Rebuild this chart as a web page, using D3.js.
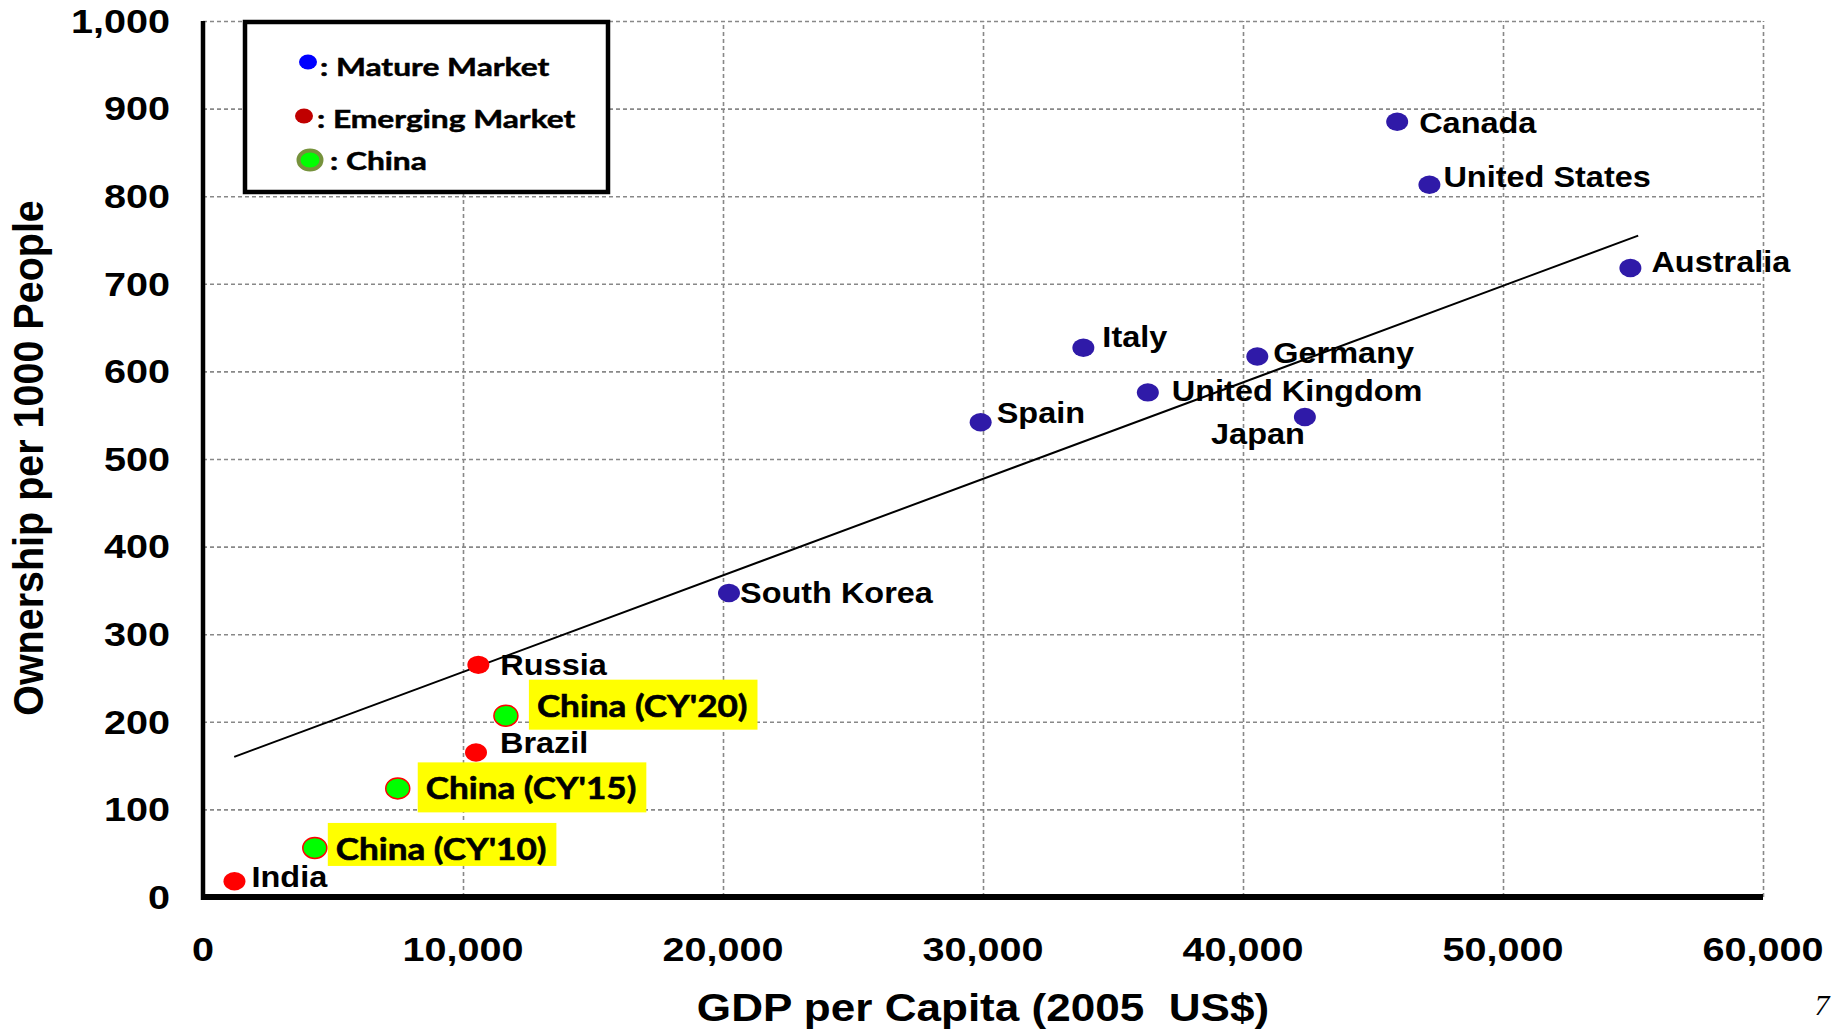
<!DOCTYPE html>
<html>
<head>
<meta charset="utf-8">
<script src="https://cdn.jsdelivr.net/npm/d3@7/dist/d3.min.js"></script>
<style>
  body { margin: 0; background: #fff; }
  svg { display: block; }
</style>
</head>
<body>
<svg id="chart"></svg>
<script>
// data
const countries = ["Canada", "United States", "Australia", "Italy", "Germany", "United Kingdom",
  "Japan", "Spain", "South Korea", "Russia", "Brazil", "India",
  "China (CY'20)", "China (CY'15)", "China (CY'10)"];
const gdpPerCapita = [45930, 47170, 54900, 33860, 40550, 36340, 42380, 29910, 20230,
  10590, 10500, 1210, 11650, 7490, 4300];
const ownership = [885, 813, 718, 627, 617, 576, 548, 542, 347, 265, 165, 18, 207, 124, 56];
const marketType = ["mature", "mature", "mature", "mature", "mature", "mature", "mature", "mature",
  "mature", "emerging", "emerging", "emerging", "china", "china", "china"];

// trend line end points
const trendGdp = [1200, 55200];
const trendOwn = [160, 755];

const xTicks = [0, 10000, 20000, 30000, 40000, 50000, 60000];
const yTicks = [0, 100, 200, 300, 400, 500, 600, 700, 800, 900, 1000];

const legendItems = [": Mature Market", ": Emerging Market", ": China"];

// label placement relative to each point [dx, dy, anchor]
const labelPos = [
  [22, 11, "start"], [14, 2, "start"], [21, 4, "start"], [19, -1, "start"],
  [16, 6, "start"], [24, 9, "start"], [0, 27, "end"], [16, 1, "start"],
  [11, 10, "start"], [22, 10, "start"], [24, 1, "start"], [17, 6, "start"],
  [31, 1, "start"], [28, 11, "start"], [21, 12, "start"]
];

const W = 1839, H = 1032;
const margin = { top: 21, right: 76, bottom: 135, left: 203 };
const plotW = W - margin.left - margin.right;
const plotH = H - margin.top - margin.bottom;

const svg = d3.select("#chart").attr("width", W).attr("height", H);
const g = svg.append("g").attr("transform", `translate(${margin.left},${margin.top})`);

const x = d3.scaleLinear().domain([0, 60000]).range([0, plotW]);
const y = d3.scaleLinear().domain([0, 1000]).range([plotH, 0]);

// stretch text horizontally around its anchor point
function stretch(sel, sx) {
  sel.each(function () {
    const t = d3.select(this);
    const tx = +t.attr("x") || 0, ty = +t.attr("y") || 0;
    t.attr("x", 0).attr("y", 0)
      .attr("transform", `translate(${tx},${ty}) scale(${sx},1)`);
  });
}

// dashed grid
g.append("g")
  .attr("class", "grid")
  .call(d3.axisLeft(y).tickValues(yTicks.slice(1)).tickSize(-plotW).tickFormat(""))
  .call(s => s.select(".domain").remove());
g.append("g")
  .attr("class", "grid")
  .attr("transform", `translate(0,${plotH})`)
  .call(d3.axisBottom(x).tickValues(xTicks.slice(1)).tickSize(plotH).tickFormat(""))
  .call(s => s.select(".domain").remove());
g.selectAll(".grid .tick line")
  .attr("stroke", "#888")
  .attr("stroke-width", 1.6)
  .attr("stroke-dasharray", "4,3");
g.selectAll(".grid .tick").filter(function () {
  return d3.select(this.parentNode).attr("transform");
}).select("line").attr("y2", -plotH);

// tick labels
const fmt = d3.format(",");
g.selectAll(".ylab")
  .data(yTicks)
  .enter().append("text")
  .attr("class", "ylab")
  .attr("x", -33)
  .attr("y", d => y(d))
  .attr("dy", "0.36em")
  .attr("text-anchor", "end")
  .style("font", "bold 33px 'Liberation Sans', Arial, sans-serif")
  .text(d => fmt(d))
  .call(stretch, 1.2);

g.selectAll(".xlab")
  .data(xTicks)
  .enter().append("text")
  .attr("class", "xlab")
  .attr("x", d => x(d))
  .attr("y", plotH + 64)
  .attr("text-anchor", "middle")
  .style("font", "bold 33px 'Liberation Sans', Arial, sans-serif")
  .text(d => fmt(d))
  .call(stretch, 1.2);

// axis lines
g.append("line")
  .attr("x1", 0).attr("x2", 0)
  .attr("y1", 0).attr("y2", plotH + 3)
  .attr("stroke", "#000").attr("stroke-width", 4.5);
g.append("line")
  .attr("x1", -2).attr("x2", plotW)
  .attr("y1", plotH).attr("y2", plotH)
  .attr("stroke", "#000").attr("stroke-width", 6);

// axis titles
svg.append("text")
  .attr("x", 983)
  .attr("y", 1021)
  .attr("text-anchor", "middle")
  .style("font", "bold 39px 'Liberation Sans', Arial, sans-serif")
  .style("white-space", "pre")
  .text("GDP per Capita (2005  US$)")
  .call(stretch, 1.13);

svg.append("text")
  .attr("transform", "translate(43,458) rotate(-90) scale(1,1.09)")
  .attr("text-anchor", "middle")
  .style("font", "bold 39.5px 'Liberation Sans', Arial, sans-serif")
  .text("Ownership per 1000 People");

// trend line
g.append("line")
  .attr("x1", x(trendGdp[0])).attr("y1", y(trendOwn[0]))
  .attr("x2", x(trendGdp[1])).attr("y2", y(trendOwn[1]))
  .attr("stroke", "#000").attr("stroke-width", 2);

const points = countries.map((c, i) => ({
  name: c, gdp: gdpPerCapita[i], own: ownership[i], type: marketType[i], pos: labelPos[i]
}));

// yellow boxes behind the China labels, drawn first
const chinaBoxes = g.append("g");

// points
g.selectAll(".pt")
  .data(points)
  .enter().append("ellipse")
  .attr("class", "pt")
  .attr("cx", d => x(d.gdp))
  .attr("cy", d => y(d.own))
  .attr("rx", d => d.type === "china" ? 12 : 11)
  .attr("ry", d => d.type === "china" ? 10.5 : 9.2)
  .attr("fill", d => d.type === "mature" ? "#2f1aa8" : d.type === "emerging" ? "#ff0000" : "#00ff00")
  .attr("stroke", d => d.type === "china" ? "#ff0000" : "none")
  .attr("stroke-width", 1.5);

// labels
const labels = g.selectAll(".lbl")
  .data(points)
  .enter().append("text")
  .attr("class", "lbl")
  .attr("x", d => x(d.gdp) + d.pos[0])
  .attr("y", d => y(d.own) + d.pos[1])
  .attr("text-anchor", d => d.pos[2])
  .style("font", d => d.type === "china"
    ? "bold 30px Lato, 'Open Sans', sans-serif"
    : "bold 29px 'Liberation Sans', Arial, sans-serif")
  .attr("fill", "#000")
  .text(d => d.name);

labels.filter(d => d.type !== "china").call(stretch, 1.12);
labels.filter(d => d.type === "china")
  .attr("stroke", "#000").attr("stroke-width", 0.6)
  .call(stretch, 1.17);

labels.filter(d => d.type === "china").each(function (d) {
  const bb = this.getBBox();
  const sx = 1.17;
  const tx = x(d.gdp) + d.pos[0], ty = y(d.own) + d.pos[1];
  chinaBoxes.append("rect")
    .attr("x", tx + bb.x * sx - 8)
    .attr("y", ty - 37)
    .attr("width", bb.width * sx + 18)
    .attr("height", d.gdp < 5000 ? 43 : 50)
    .attr("fill", "#ffff00");
});

// legend
const legend = svg.append("g").attr("class", "legend");
legend.append("rect")
  .attr("x", 245).attr("y", 22)
  .attr("width", 363).attr("height", 170)
  .attr("fill", "#fff")
  .attr("stroke", "#000")
  .attr("stroke-width", 4.5);

legend.append("ellipse")
  .attr("cx", 308).attr("cy", 62).attr("rx", 9).attr("ry", 7.5)
  .attr("fill", "#0000ff");
legend.append("ellipse")
  .attr("cx", 304).attr("cy", 116).attr("rx", 9).attr("ry", 7.5)
  .attr("fill", "#c00000");
legend.append("ellipse")
  .attr("cx", 310).attr("cy", 160).attr("rx", 11.5).attr("ry", 9.5)
  .attr("fill", "#00ff00")
  .attr("stroke", "#76923c").attr("stroke-width", 4);

const legendX = [320, 317, 330];
const legendY = [76, 128, 170];
legend.selectAll(".ltxt")
  .data(legendItems)
  .enter().append("text")
  .attr("class", "ltxt")
  .attr("x", (d, i) => legendX[i])
  .attr("y", (d, i) => legendY[i])
  .style("font", "bold 25px Lato, 'Open Sans', sans-serif")
  .attr("fill", "#000")
  .attr("stroke", "#000").attr("stroke-width", 0.5)
  .text(d => d)
  .call(stretch, 1.27);

// page number
svg.append("text")
  .attr("x", 1822).attr("y", 1015)
  .attr("text-anchor", "middle")
  .style("font", "italic 30px 'Liberation Serif', serif")
  .text("7");
</script>
</body>
</html>
